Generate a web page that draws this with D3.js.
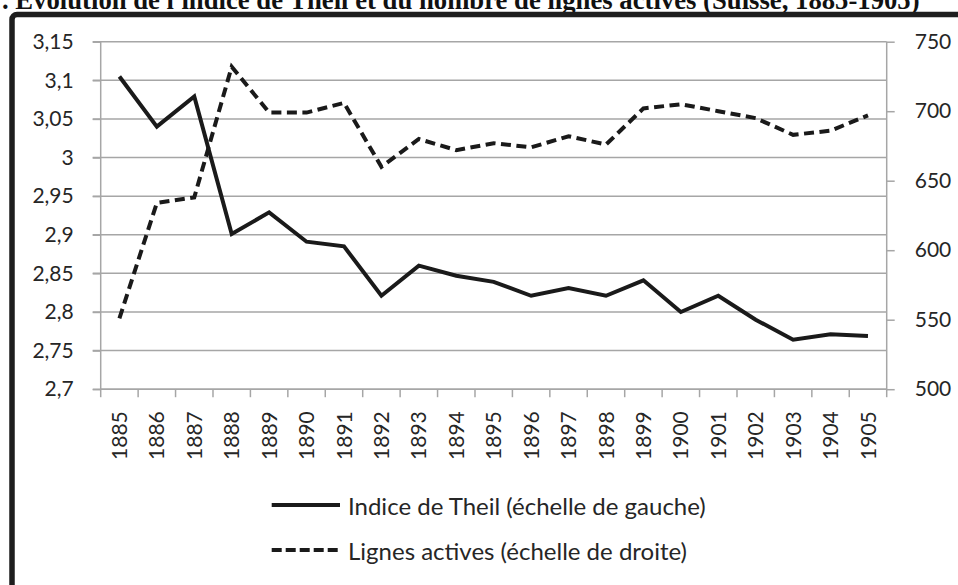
<!DOCTYPE html>
<html>
<head>
<meta charset="utf-8">
<script src="https://cdn.jsdelivr.net/npm/d3@7"></script>
<style>
	html, body { margin:0; padding:0; background:#fff; overflow:hidden; }
	svg { display:block; }
	text { font-family: Lato, "Open Sans", sans-serif; fill:#262626; }
</style>
</head>
<body>
<div id="chart"></div>
<script>

// data
var years = [1885,1886,1887,1888,1889,1890,1891,1892,1893,1894,1895,
	1896,1897,1898,1899,1900,1901,1902,1903,1904,1905];
var theil = [3.105,3.040,3.079,2.901,2.929,2.891,2.885,2.821,2.860,2.847,2.839,
	2.821,2.831,2.821,2.841,2.800,2.821,2.790,2.764,2.771,2.769];
var lignes = [551,634,638,732,699,699,706,660,680,672,677,
	674,682,676,702,705,700,695,683,686,697];
var leftTicks = [2.7,2.75,2.8,2.85,2.9,2.95,3,3.05,3.1,3.15];
var rightTicks = [500,550,600,650,700,750];
var legendLabels = ['Indice de Theil (\u00E9chelle de gauche)', 'Lignes actives (\u00E9chelle de droite)'];
var title = ". Evolution de l'indice de Theil et du nombre de lignes actives (Suisse, 1885-1905)";

var W = 958, H = 585;
// plot box (window.top is taken, so no "top" here)
var pLeft = 100.7, pRight = 886.7, pTop = 41.7, pBottom = 389.2;
var gridColor = '#a6a6a6';

var svg = d3.select('#chart').append('svg')
	.attr('width', W)
	.attr('height', H);

// comma as decimal mark
var fr = d3.formatLocale({decimal:',', thousands:'\u00A0', grouping:[3], currency:['','']});
var fmtLeft = fr.format('.2~f');

var x = d3.scaleBand().domain(years).range([pLeft, pRight]).padding(0);
var yL = d3.scaleLinear().domain([2.7, 3.15]).range([pBottom, pTop]);
var yR = d3.scaleLinear().domain([500, 750]).range([pBottom, pTop]);

// title, cut at the top of the page
var t = svg.append('text')
	.attr('x', 2)
	.attr('y', 9)
	.style('font-family', '"Liberation Serif", "Times New Roman", serif')
	.style('font-weight', 'bold')
	.style('font-size', '24px')
	.style('fill', '#111')
	.text(title);
var tw = t.node().getComputedTextLength();
t.style('font-size', (24 * 918 / tw) + 'px');

// thick frame, going on past the right and bottom edges
svg.append('rect')
	.attr('x', 12)
	.attr('y', 14.5)
	.attr('width', W + 40)
	.attr('height', H + 40)
	.attr('rx', 5)
	.attr('fill', 'none')
	.attr('stroke', '#1e1e1e')
	.attr('stroke-width', 5.5);

// gridlines (left scale)
svg.append('g')
	.selectAll('line')
	.data(leftTicks)
	.enter()
	.append('line')
	.attr('x1', pLeft - 8)
	.attr('x2', pRight)
	.attr('y1', function(d){ return yL(d); })
	.attr('y2', function(d){ return yL(d); })
	.attr('stroke', gridColor)
	.attr('stroke-width', 1.5);

// left axis
var axL = svg.append('g')
	.attr('transform', 'translate(' + pLeft + ',0)')
	.call(d3.axisLeft(yL).tickValues(leftTicks).tickFormat(fmtLeft).tickSize(8).tickPadding(19));
axL.selectAll('line, path').attr('stroke', gridColor).attr('stroke-width', 1.5);
axL.select('path').attr('d', 'M0,' + pTop + 'V' + pBottom);
axL.selectAll('text').style('font-size', '21px').style('font-family', 'Lato');

// right axis
var axR = svg.append('g')
	.attr('transform', 'translate(' + pRight + ',0)')
	.call(d3.axisRight(yR).tickValues(rightTicks).tickSize(8).tickPadding(20));
axR.selectAll('line, path').attr('stroke', gridColor).attr('stroke-width', 1.5);
axR.select('path').attr('d', 'M0,' + pTop + 'V' + pBottom);
axR.selectAll('text').style('font-size', '21px').style('font-family', 'Lato');

// bottom axis: ticks sit between categories
var axB = svg.append('g')
	.attr('transform', 'translate(0,' + pBottom + ')')
	.call(d3.axisBottom(x).tickSize(0).tickPadding(0));
axB.select('path').attr('d', 'M' + pLeft + ',0H' + pRight)
	.attr('stroke', gridColor).attr('stroke-width', 1.5);
axB.selectAll('text')
	.style('font-size', '21px')
	.style('font-family', 'Lato')
	.attr('text-anchor', 'end')
	.attr('transform', 'translate(0,22) rotate(-90)')
	.attr('x', 0)
	.attr('y', 0)
	.attr('dy', '0.36em');
var edges = years.map(function(d){ return x(d); }).concat([pRight]);
axB.selectAll('line.edge')
	.data(edges)
	.enter()
	.append('line')
	.attr('class', 'edge')
	.attr('x1', function(d){ return d; })
	.attr('x2', function(d){ return d; })
	.attr('y1', 0)
	.attr('y2', 8)
	.attr('stroke', gridColor)
	.attr('stroke-width', 1.5);

function cx(d, i){ return x(years[i]) + x.bandwidth() / 2; }

var lineTheil = d3.line()
	.x(cx)
	.y(function(d){ return yL(d); });
var lineLignes = d3.line()
	.x(cx)
	.y(function(d){ return yR(d); });

svg.append('path')
	.datum(lignes)
	.attr('d', lineLignes)
	.attr('fill', 'none')
	.attr('stroke', '#1a1a1a')
	.attr('stroke-width', 4)
	.attr('stroke-dasharray', '10,5.5');

svg.append('path')
	.datum(theil)
	.attr('d', lineTheil)
	.attr('fill', 'none')
	.attr('stroke', '#1a1a1a')
	.attr('stroke-width', 4)
	.attr('stroke-linejoin', 'miter');

// legend
var legend = svg.append('g');
var legendY = [505, 550];
var dashes = [null, '10,4'];
legendLabels.forEach(function(label, i){
	legend.append('line')
		.attr('x1', 271.7)
		.attr('x2', 340)
		.attr('y1', legendY[i])
		.attr('y2', legendY[i])
		.attr('stroke', '#1a1a1a')
		.attr('stroke-width', 4)
		.attr('stroke-dasharray', dashes[i]);
	legend.append('text')
		.attr('x', 348)
		.attr('y', legendY[i] + 1)
		.attr('dy', '0.36em')
		.style('font-size', '24px')
		.text(label);
});

</script>
</body>
</html>
